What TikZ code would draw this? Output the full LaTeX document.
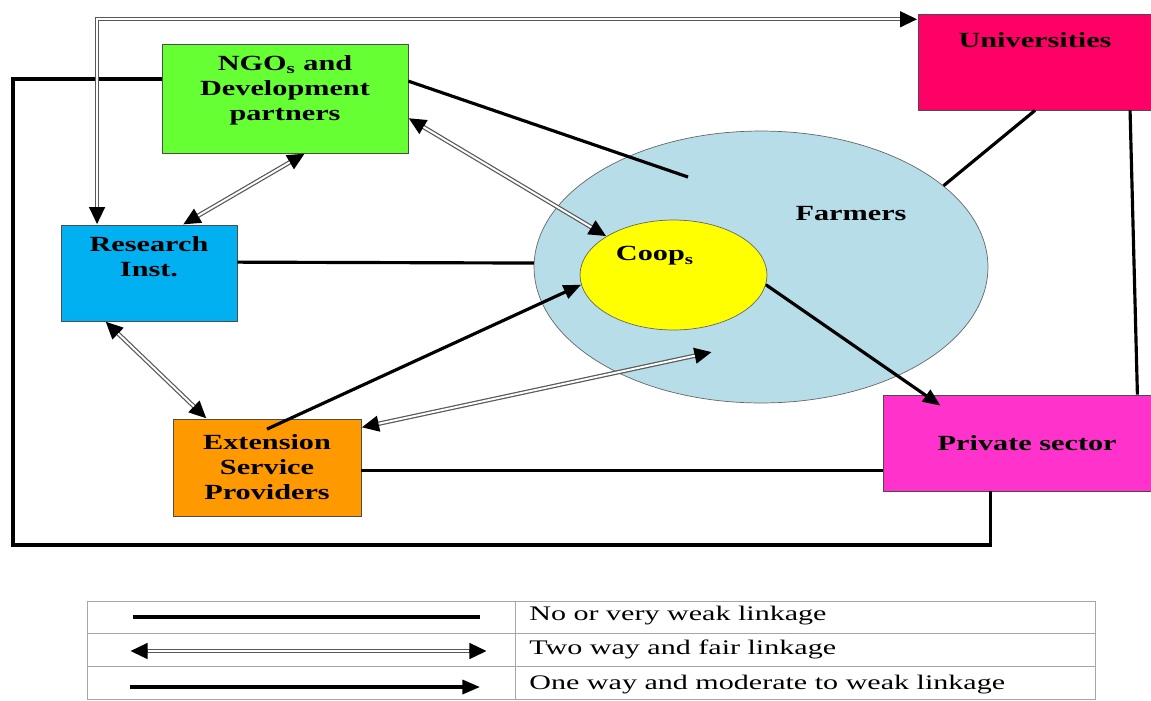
\documentclass[tikz,border=0pt]{standalone}
\usepackage{fontspec}
\setmainfont[FakeStretch=1.4]{Liberation Serif}
\newfontfamily\legfont[FakeStretch=1.45]{Liberation Serif}
\usetikzlibrary{shapes,arrows.meta,positioning}

\definecolor{ngogreen}{HTML}{66FF33}
\definecolor{unired}{HTML}{FF0066}
\definecolor{resblue}{HTML}{00B0F0}
\definecolor{extorange}{HTML}{FF9900}
\definecolor{prvpink}{HTML}{FF33CC}
\definecolor{farmblue}{HTML}{B7DEE8}
\definecolor{coopyellow}{HTML}{FFFF00}

\begin{document}
\begin{tikzpicture}[x=0.02cm,y=-0.02cm]
	\tikzstyle {box} = [draw=black!70, line width=0.5pt, rectangle, inner sep=0pt, align=center, font=\bfseries\fontsize{12.3}{14.2}\selectfont]
	\tikzstyle {lbl} = [inner sep=0pt, align=center, font=\bfseries\fontsize{12.3}{14.2}\selectfont]
	\tikzstyle {weak} = [line width=1.8pt]
	\tikzstyle {oneway} = [line width=1.8pt, -{Triangle[length=10pt,width=8pt]}]
	\tikzstyle {twoway} = [draw=black!65, line width=2.5pt, {Triangle[length=10pt,width=8.5pt,color=black]}-{Triangle[length=10pt,width=8.5pt,color=black]}, postaction={draw=white, line width=1.1pt, -, shorten <=10pt, shorten >=10pt}]
	\tikzstyle {leg} = [inner sep=0pt, anchor=west, font=\legfont\fontsize{11.8}{14}\selectfont]

	\useasboundingbox (0,0) rectangle (1151,700);

	\node[ellipse, draw=black!60, fill=farmblue, inner sep=0pt, minimum width=9.08cm, minimum height=5.44cm] (farm) at (761,267) {};
	\node[ellipse, draw=black!60, fill=coopyellow, inner sep=0pt, minimum width=3.74cm, minimum height=2.2cm] (coop) at (673.5,275) {};
	\node[lbl] (farm-t) at (851,214) {Farmers};
	\node[lbl] (coop-t) at (655,256) {Coop\textsubscript{s}};

	\node[box, fill=ngogreen, minimum width=4.92cm, minimum height=2.18cm] (ngo) at (285,98.5) {};
	\node[lbl] (ngo-t) at (285,90) {NGO\textsubscript{s} and\\Development\\partners};

	\node[box, fill=unired, minimum width=4.68cm, minimum height=1.92cm] (univ) at (1035,62) {};
	\node[lbl] (univ-t) at (1035,40) {Universities};

	\node[box, fill=resblue, minimum width=3.52cm, minimum height=1.92cm] (res) at (149,273) {};
	\node[lbl] (res-t) at (149,257) {Research\\Inst.};

	\node[box, fill=extorange, minimum width=3.76cm, minimum height=1.94cm] (ext) at (267,467.5) {Extension\\Service\\Providers};
	\node[box, fill=prvpink, minimum width=5.38cm, minimum height=1.92cm] (prv) at (1017.5,443) {\hspace*{11pt}Private sector};

	\coordinate (fin1) at (688,177);
	\coordinate (fin2) at (712,352);
	\coordinate (lc) at (13,545);

	% linkages
	\draw[weak] (ngo.8) -- (fin1);
	\draw[twoway] (ngo.-9) -- (coop.150);
	\draw[twoway] (ngo.-70) -- (res.55);
	\draw[weak] (res.7) -- (farm.179);
	\draw[twoway] (res.-132) -- (ext.141);
	\draw[oneway] ([yshift=-6pt]ext.north) -- (coop.186);
	\draw[twoway] (fin2) -- (ext.23);
	\draw[weak] (ext.-2) -- (ext.-2 -| prv.west);
	\draw[oneway] (coop.-6) -- ([shift={(-77,11)}]prv.north);
	\draw[weak] (univ.south) -- (farm.24);
	\draw[weak] (univ.-27) -- (prv.22);
	\draw[weak, line width=2pt] (ngo.171) -| (lc) -| (prv.-119);
	\draw[twoway] (res.137) |- (univ.160);

	% legend
	\draw[black!35, line width=0.5pt] (87,601) rectangle (1095,699.5);
	\draw[black!35, line width=0.5pt] (87,633) -- (1095,633);
	\draw[black!35, line width=0.5pt] (87,666) -- (1095,666);
	\draw[black!35, line width=0.5pt] (515,601) -- (515,699.5);

	\coordinate (l1a) at (133,617);
	\coordinate (l1b) at (480,617);
	\coordinate (l2a) at (130,651);
	\coordinate (l2b) at (487,651);
	\coordinate (l3a) at (130,687);
	\coordinate (l3b) at (480,687);
	\draw[weak] (l1a) -- (l1b);
	\draw[twoway] (l2a) -- (l2b);
	\draw[oneway] (l3a) -- (l3b);

	\node[leg] (leg1) at (529,616) {No or very weak linkage};
	\node[leg] (leg2) at (529,649) {Two way and fair linkage};
	\node[leg] (leg3) at (529,685) {One way and moderate to weak linkage};
\end{tikzpicture}
\end{document}
